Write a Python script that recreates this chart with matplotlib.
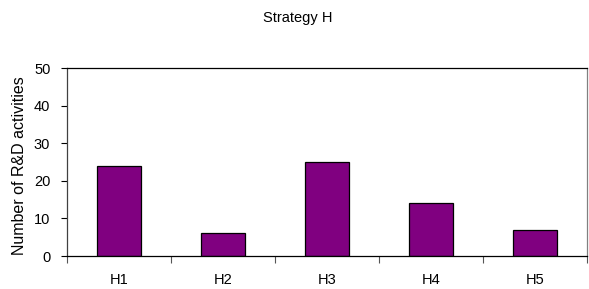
import numpy as np
import matplotlib
matplotlib.use('Agg')
import matplotlib.pyplot as plt

# bar data
categories = ['H1', 'H2', 'H3', 'H4', 'H5']
counts = [24, 6, 25, 14, 7]

plt.rcParams['font.family'] = ['Liberation Sans', 'DejaVu Sans']
plt.rcParams['font.size'] = 10.5

fig = plt.figure(figsize=(5.89, 2.89), dpi=100)
ax = fig.add_axes([67/589, 33/289, 520/589, 188/289])

x = np.arange(len(categories))
ax.bar(x, counts, width=0.42, color='#800080', edgecolor='black', linewidth=0.9)

ax.set_xlim(-0.5, len(categories) - 0.5)
ax.set_ylim(0, 50)
ax.set_yticks([0, 10, 20, 30, 40, 50])

# labels in the middle, tick marks between categories
ax.set_xticks(x)
ax.set_xticklabels(categories)
ax.tick_params(axis='x', which='major', length=0, pad=12)
ax.set_xticks(np.arange(-0.5, len(categories), 1.0), minor=True)
ax.tick_params(axis='x', which='minor', length=5, width=0.8, color='#555555')
ax.tick_params(axis='y', length=4, width=0.8, pad=8)

ax.spines['left'].set_color('#404040')
ax.spines['bottom'].set_color('black')
ax.spines['top'].set_color('black')
ax.spines['right'].set_color('#808080')
for s in ax.spines.values():
    s.set_linewidth(0.9)

ax.set_ylabel('Number of R&D activities', fontsize=11.5)
ax.yaxis.set_label_coords(-0.077, 0.48)
fig.text(0.505, 0.937, 'Strategy H', ha='center', va='center')

fig.savefig('out.png', dpi=100)
